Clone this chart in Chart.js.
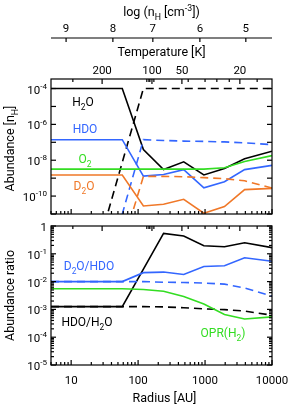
<!DOCTYPE html>
<html>
<head>
<meta charset="utf-8">
<script src="https://cdn.jsdelivr.net/npm/chart.js@4.4.1/dist/chart.umd.min.js"></script>
<style>
    html, body { margin: 0; padding: 0; background: #fff; }
    #wrap { position: relative; width: 288px; height: 406px; }
    #wrap canvas { position: absolute; left: 0; top: 0; }
</style>
</head>
<body>
<div id="wrap">
    <canvas id="topChart" width="288" height="406"></canvas>
    <canvas id="bottomChart" width="288" height="406"></canvas>
</div>
<script>
// ============================================================================
// DATA
// ============================================================================

// Model radii [AU]
const radius = [5, 58, 120, 240, 480, 960, 1950, 3900, 10000];
const radiusDash = [5, 120, 240, 480, 960, 1950, 3900, 10000];

// Top panel: abundances [n_H]
const h2oSolid = [1e-4, 1e-4, 3.9e-8, 3.0e-9, 8.1e-9, 1.5e-9, 3.5e-9, 1.2e-8, 3.2e-8];
const h2oDash = [1e-22, 1e-4, 1e-4, 1e-4, 1e-4, 1e-4, 1e-4, 1e-4];
const hdoSolid = [1.4e-7, 1.4e-7, 1.3e-9, 1.6e-9, 3.0e-9, 2.9e-10, 6.3e-10, 3.0e-9, 5.2e-9];
const hdoDash = [1e-25, 1.4e-7, 1.26e-7, 1.17e-7, 1.12e-7, 1.05e-7, 9.3e-8, 7.4e-8];
const o2Solid = [3.2e-9, 3.2e-9, 3.2e-9, 3.2e-9, 3.2e-9, 3.2e-9, 3.8e-9, 8.5e-9, 1.8e-8];
const d2oSolid = [1.5e-9, 1.5e-9, 2.8e-11, 3.5e-11, 6.6e-11, 1.1e-11, 2.6e-11, 2.3e-10, 2.7e-10];
const d2oDash = [1e-26, 1.26e-9, 1.26e-9, 1.2e-9, 1.07e-9, 9.3e-10, 7.1e-10, 2.8e-10];

// Bottom panel: abundance ratios
const hdoH2oSolid = [1.26e-3, 1.26e-3, 0.028, 0.54, 0.44, 0.195, 0.18, 0.25, 0.166];
const hdoH2oDash = [1.26e-3, 1.26e-3, 1.26e-3, 1.23e-3, 1.15e-3, 1.05e-3, 9.8e-4, 8.7e-4, 6.2e-4];
const d2oHdoSolid = [1e-2, 1e-2, 2.1e-2, 2.2e-2, 1.8e-2, 3.5e-2, 3.7e-2, 7.2e-2, 5.4e-2];
const d2oHdoDash = [1e-2, 1e-2, 1e-2, 9.5e-3, 9.3e-3, 8.9e-3, 8.1e-3, 5.9e-3, 3.0e-3];
const oprH2 = [5.5e-3, 5.5e-3, 5.2e-3, 4.5e-3, 2.9e-3, 1.55e-3, 6.6e-4, 4.5e-4, 5.4e-4];

// Axis ticks
const radiusTickLabels = ['10', '100', '1000', '10000'];
const radiusTickValues = [10, 100, 1000, 10000];
const topYTickExp = [-4, -6, -8, -10];
const bottomYTickExp = [0, -1, -2, -3, -4, -5];
const tempTickLabels = ['200', '100', '50', '20'];
const tempTickRadius = [29, 161, 451, 3311];        // radius where each temperature is reached
const tempMinorRadius = [10.6, 135, 145, 150, 172, 560, 1000, 1500, 2300, 6000];
const nhTickLabels = ['9', '8', '7', '6', '5'];
const nhTickRadius = [8.4, 42, 166, 837, 4065];

// ============================================================================
// STYLE
// ============================================================================

const FONT = 'Roboto, "Liberation Sans", sans-serif';
const BLACK = '#000000';
const BLUE = '#3366ff';
const GREEN = '#33dd22';
const ORANGE = '#f07828';

// ============================================================================
// HELPERS
// ============================================================================

function setFont(ctx, size) {
    ctx.font = size + 'px ' + FONT;
}

// parts: [[text, ''|'sub'|'sup'], ...]
function drawRich(ctx, parts, x, y, size, align) {
    let w = 0;
    parts.forEach(p => {
        setFont(ctx, p[1] ? size * 0.7 : size);
        w += ctx.measureText(p[0]).width;
    });
    let cx = align === 'center' ? x - w / 2 : (align === 'right' ? x - w : x);
    ctx.textAlign = 'left';
    ctx.textBaseline = 'alphabetic';
    parts.forEach(p => {
        const s = p[1] ? size * 0.7 : size;
        setFont(ctx, s);
        let dy = 0;
        if (p[1] === 'sub') dy = size * 0.3;
        if (p[1] === 'sup') dy = -size * 0.42;
        ctx.fillText(p[0], cx, y + dy);
        cx += ctx.measureText(p[0]).width;
    });
}

function powLabel(exp) {
    if (exp === 0) return [['1', '']];
    return [['10', ''], ['-' + Math.abs(exp), 'sup']];
}

function line(ctx, x1, y1, x2, y2) {
    ctx.beginPath();
    ctx.moveTo(x1, y1);
    ctx.lineTo(x2, y2);
    ctx.stroke();
}

// log ticks of the radius axis, drawn inward from a horizontal edge
function radiusTicks(ctx, xScale, yEdge, dir) {
    for (let d = 0; d <= 4; d++) {
        for (let k = 1; k <= 9; k++) {
            const v = k * Math.pow(10, d);
            if (v < 5 || v > 10000) continue;
            const px = xScale.getPixelForValue(v);
            line(ctx, px, yEdge, px, yEdge + dir * (k === 1 ? 5 : 3));
        }
    }
}

function tempTicks(ctx, xScale, yEdge) {
    tempTickRadius.forEach(r => {
        const px = xScale.getPixelForValue(r);
        line(ctx, px, yEdge, px, yEdge + 5);
    });
    tempMinorRadius.forEach(r => {
        const px = xScale.getPixelForValue(r);
        line(ctx, px, yEdge, px, yEdge + 3);
    });
}

function makeSet(xs, ys, color, dashed) {
    return {
        data: xs.map((r, i) => ({ x: r, y: ys[i] })),
        borderColor: color,
        borderWidth: 1.6,
        borderDash: dashed ? [8, 5] : [],
        pointRadius: 0,
        tension: 0,
        fill: false
    };
}

function baseOptions(padding, yMin, yMax) {
    return {
        responsive: false,
        animation: false,
        devicePixelRatio: 1,
        events: [],
        layout: { padding: padding },
        plugins: {
            legend: { display: false },
            tooltip: { enabled: false }
        },
        scales: {
            x: { type: 'logarithmic', min: 5, max: 10000, display: false },
            y: { type: 'logarithmic', min: yMin, max: yMax, display: false }
        }
    };
}

// ============================================================================
// TOP PANEL
// ============================================================================

const topFrame = {
    id: 'topFrame',
    afterDraw(chart) {
        const { ctx, chartArea: a, scales: { x, y } } = chart;
        ctx.save();
        ctx.strokeStyle = BLACK;
        ctx.fillStyle = BLACK;
        ctx.lineWidth = 1.2;
        ctx.strokeRect(a.left, a.top, a.right - a.left, a.bottom - a.top);

        // decade ticks on both sides
        for (let e = -11; e <= -4; e++) {
            const py = y.getPixelForValue(Math.pow(10, e));
            line(ctx, a.left, py, a.left + 5, py);
            line(ctx, a.right, py, a.right - 5, py);
        }
        radiusTicks(ctx, x, a.bottom, -1);
        tempTicks(ctx, x, a.top);

        topYTickExp.forEach(e => {
            const py = y.getPixelForValue(Math.pow(10, e));
            drawRich(ctx, powLabel(e), a.left - 4, py + 5, 11.5, 'right');
        });

        // temperature axis labels
        tempTickLabels.forEach((t, i) => {
            drawRich(ctx, [[t, '']], x.getPixelForValue(tempTickRadius[i]), 74, 11.5, 'center');
        });
        const mid = (a.left + a.right) / 2;
        drawRich(ctx, [['Temperature [K]', '']], mid, 56, 12.5, 'center');

        // density axis
        const nhY = 38;
        line(ctx, a.left, nhY, a.right, nhY);
        nhTickLabels.forEach((t, i) => {
            const px = x.getPixelForValue(nhTickRadius[i]);
            line(ctx, px, nhY, px, nhY + 4);
            drawRich(ctx, [[t, '']], px, 32, 11.5, 'center');
        });
        drawRich(ctx, [['log (n', ''], ['H', 'sub'], [' [cm', ''], ['-3', 'sup'], ['])', '']], mid, 16, 12.5, 'center');

        // y title
        ctx.save();
        ctx.translate(14, (a.top + a.bottom) / 2 + 2);
        ctx.rotate(-Math.PI / 2);
        drawRich(ctx, [['Abundance [n', ''], ['H', 'sub'], [']', '']], 0, 0, 12.5, 'center');
        ctx.restore();

        // series labels
        ctx.fillStyle = BLACK;
        drawRich(ctx, [['H', ''], ['2', 'sub'], ['O', '']], 83, 106, 12, 'center');
        ctx.fillStyle = BLUE;
        drawRich(ctx, [['HDO', '']], 85, 133, 12, 'center');
        ctx.fillStyle = GREEN;
        drawRich(ctx, [['O', ''], ['2', 'sub']], 85, 163, 12, 'center');
        ctx.fillStyle = ORANGE;
        drawRich(ctx, [['D', ''], ['2', 'sub'], ['O', '']], 84, 190, 12, 'center');
        ctx.restore();
    }
};

new Chart(document.getElementById('topChart'), {
    type: 'line',
    data: {
        datasets: [
            makeSet(radius, o2Solid, GREEN, false),
            makeSet(radius, d2oSolid, ORANGE, false),
            makeSet(radiusDash, d2oDash, ORANGE, true),
            makeSet(radius, hdoSolid, BLUE, false),
            makeSet(radiusDash, hdoDash, BLUE, true),
            makeSet(radius, h2oSolid, BLACK, false),
            makeSet(radiusDash, h2oDash, BLACK, true)
        ]
    },
    options: baseOptions({ left: 51, right: 16, top: 79, bottom: 192 }, 1e-11, 3.4e-4),
    plugins: [topFrame]
});

// ============================================================================
// BOTTOM PANEL
// ============================================================================

const bottomFrame = {
    id: 'bottomFrame',
    afterDraw(chart) {
        const { ctx, chartArea: a, scales: { x, y } } = chart;
        ctx.save();
        ctx.strokeStyle = BLACK;
        ctx.fillStyle = BLACK;
        ctx.lineWidth = 1.2;
        ctx.strokeRect(a.left, a.top, a.right - a.left, a.bottom - a.top);

        for (let e = -5; e <= 0; e++) {
            for (let k = 1; k <= 9; k++) {
                const v = k * Math.pow(10, e);
                if (v > 1) continue;
                const py = y.getPixelForValue(v);
                const len = k === 1 ? 5 : 3;
                line(ctx, a.left, py, a.left + len, py);
                line(ctx, a.right, py, a.right - len, py);
            }
        }
        radiusTicks(ctx, x, a.bottom, -1);
        tempTicks(ctx, x, a.top);

        bottomYTickExp.forEach(e => {
            const py = y.getPixelForValue(Math.pow(10, e));
            drawRich(ctx, powLabel(e), a.left - 4, py + 5, 11.5, 'right');
        });
        radiusTickValues.forEach((v, i) => {
            drawRich(ctx, [[radiusTickLabels[i], '']], x.getPixelForValue(v), 384, 11.5, 'center');
        });
        const mid = (a.left + a.right) / 2;
        drawRich(ctx, [['Radius [AU]', '']], mid + 3, 402, 12.5, 'center');

        ctx.save();
        ctx.translate(14, (a.top + a.bottom) / 2);
        ctx.rotate(-Math.PI / 2);
        drawRich(ctx, [['Abundance ratio', '']], 0, 0, 12.5, 'center');
        ctx.restore();

        ctx.fillStyle = BLUE;
        drawRich(ctx, [['D', ''], ['2', 'sub'], ['O/HDO', '']], 89, 270, 12, 'center');
        ctx.fillStyle = BLACK;
        drawRich(ctx, [['HDO/H', ''], ['2', 'sub'], ['O', '']], 87, 326, 12, 'center');
        ctx.fillStyle = GREEN;
        drawRich(ctx, [['OPR(H', ''], ['2', 'sub'], [')', '']], 223, 337, 12, 'center');
        ctx.restore();
    }
};

new Chart(document.getElementById('bottomChart'), {
    type: 'line',
    data: {
        datasets: [
            makeSet(radius, oprH2, GREEN, false),
            makeSet(radius, d2oHdoDash, BLUE, true),
            makeSet(radius, d2oHdoSolid, BLUE, false),
            makeSet(radius, hdoH2oDash, BLACK, true),
            makeSet(radius, hdoH2oSolid, BLACK, false)
        ]
    },
    options: baseOptions({ left: 51, right: 16, top: 226, bottom: 41 }, 1e-5, 1),
    plugins: [bottomFrame]
});
</script>
</body>
</html>
